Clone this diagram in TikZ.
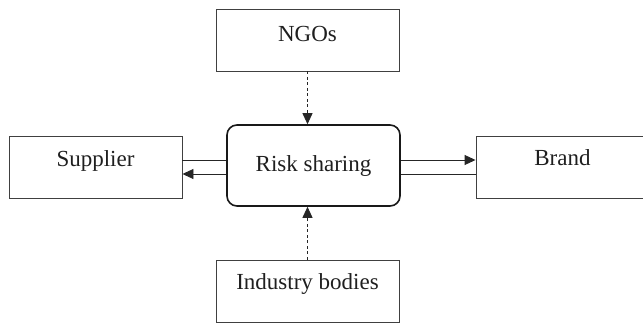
\documentclass[tikz,border=0pt]{standalone}
\usepackage{fontspec}
\setmainfont{Liberation Serif}
\usetikzlibrary{arrows.meta}
\begin{document}
\begin{tikzpicture}[x=1pt,y=-1pt,
  box/.style={draw=black!75,line width=0.9pt,inner sep=0pt,minimum width=173pt,
    font=\fontsize{23}{25}\selectfont,text=black!88},
  riskbox/.style={box,draw=black!90,line width=1.6pt,rounded corners=10pt},
  conn/.style={draw=black!85,line width=0.9pt},
  tip/.style={-{Triangle[length=11pt,width=10pt]}},
  dotline/.style={conn,dash pattern=on 3pt off 2.5pt}]
\useasboundingbox (0,0) rectangle (643,323);
\node[box,minimum width=183pt,text height=33pt,text depth=29pt] (ngo) at (307.5,40) {NGOs};
\node[box,minimum width=183pt,text height=30pt,text depth=32pt] (ind) at (307.5,291) {Industry bodies};
\node[box,text height=31pt,text depth=31pt] (sup) at (95.5,167) {Supplier};
\node[box,text height=30pt,text depth=32pt] (brand) at (562.5,167) {Brand};
\node[riskbox,text height=47pt,text depth=34pt] (risk) at (313.5,165.5) {Risk sharing};
\draw[dotline,tip] (ngo.south) -- (ngo.south |- risk.north);
\draw[dotline,tip] (ind.north) -- (ind.north |- risk.south);
\draw[conn] ([yshift=7pt]sup.east) -- ([yshift=7pt]sup.east -| risk.west);
\draw[conn,tip] ([yshift=-7pt]sup.east -| risk.west) -- ([yshift=-7pt]sup.east);
\draw[conn,tip] ([yshift=7pt]brand.west -| risk.east) -- ([yshift=7pt]brand.west);
\draw[conn] ([yshift=-7pt]brand.west) -- ([yshift=-7pt]brand.west -| risk.east);
\end{tikzpicture}
\end{document}
